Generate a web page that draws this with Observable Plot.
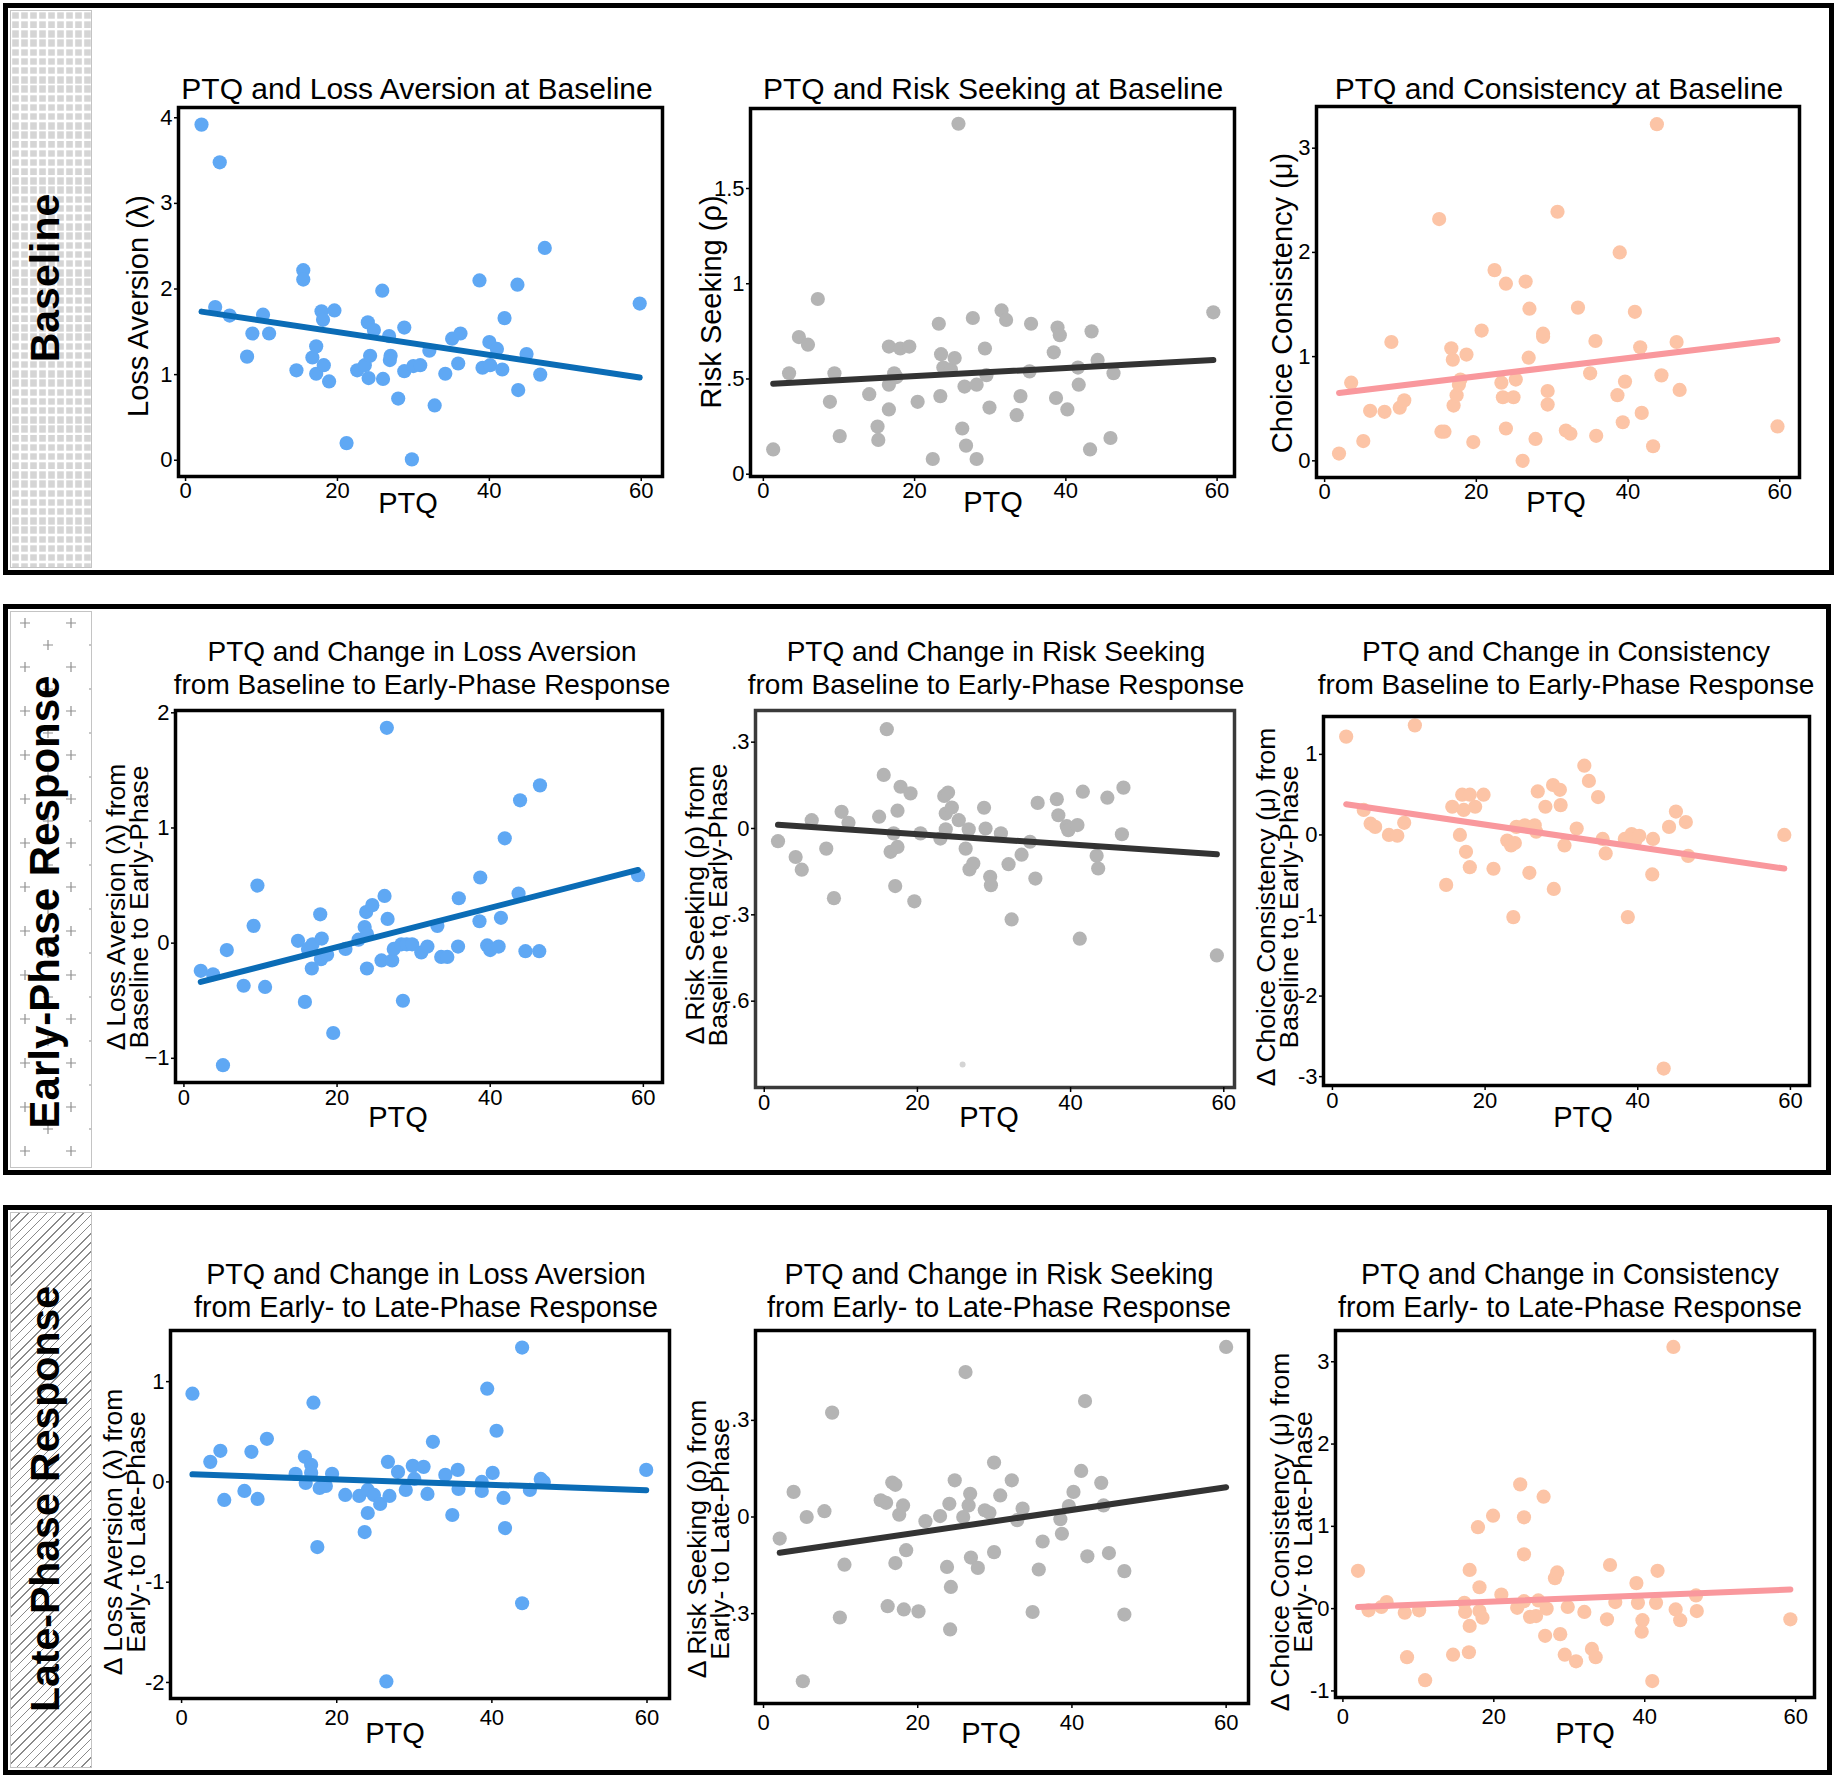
<!DOCTYPE html>
<html><head><meta charset="utf-8">
<script src="https://cdn.jsdelivr.net/npm/d3@7"></script>
<script src="https://cdn.jsdelivr.net/npm/@observablehq/plot@0.6"></script>
<style>
body{margin:0;background:#fff;font-family:"Liberation Sans",Arial,Helvetica,sans-serif;}
#root{position:relative;width:1836px;height:1779px;overflow:hidden;background:#fff;}
.box{position:absolute;border:5px solid #000;box-sizing:border-box;}
.strip{position:absolute;box-sizing:border-box;border:1px solid #c4c4c4;}
.side{position:absolute;font-weight:bold;color:#000;white-space:nowrap;transform:translate(-50%,-50%) rotate(-90deg);line-height:1;}
.title{position:absolute;white-space:pre;text-align:center;transform:translate(-50%,-50%);color:#000;}
.ylab{position:absolute;white-space:pre;text-align:center;transform:translate(-50%,-50%) rotate(-90deg);color:#000;}
.xlab{position:absolute;white-space:nowrap;transform:translate(-50%,-50%);color:#000;font-size:29px;line-height:1;}
</style>
</head><body><div id="root"></div>
<script>
// ---------------- DATA ----------------
const xTicks = [0, 20, 40, 60];

const rowLabels = ["Baseline", "Early-Phase Response", "Late-Phase Response"];

const titles = [
  "PTQ and Loss Aversion at Baseline",
  "PTQ and Risk Seeking at Baseline",
  "PTQ and Consistency at Baseline",
  "PTQ and Change in Loss Aversion\nfrom Baseline to Early-Phase Response",
  "PTQ and Change in Risk Seeking\nfrom Baseline to Early-Phase Response",
  "PTQ and Change in Consistency\nfrom Baseline to Early-Phase Response",
  "PTQ and Change in Loss Aversion\nfrom Early- to Late-Phase Response",
  "PTQ and Change in Risk Seeking\nfrom Early- to Late-Phase Response",
  "PTQ and Change in Consistency\nfrom Early- to Late-Phase Response"
];

const yLabels = [
  "Loss Aversion (λ)",
  "Risk Seeking (ρ)",
  "Choice Consistency (μ)",
  "Δ Loss Aversion (λ) from\nBaseline to Early-Phase",
  "Δ Risk Seeking (ρ) from\nBaseline to Early-Phase",
  "Δ Choice Consistency (μ) from\nBaseline to Early-Phase",
  "Δ Loss Aversion (λ) from\nEarly- to Late-Phase",
  "Δ Risk Seeking (ρ) from\nEarly- to Late-Phase",
  "Δ Choice Consistency (μ) from\nEarly- to Late-Phase"
];
const xLabel = "PTQ";

// Panel 1: PTQ vs loss aversion, baseline
const ptqLossBase = [2.1,4.5,3.9,5.8,8.1,8.8,10.2,11.0,14.6,15.5,15.5,16.7,17.2,17.2,17.9,18.1,18.2,18.9,19.6,21.2,22.6,23.6,24.0,24.1,24.3,24.8,25.9,26.0,26.8,27.0,26.9,28.0,28.8,28.8,29.8,30.0,30.9,32.1,32.8,34.2,35.1,35.9,36.2,38.7,39.1,40.0,40.1,41.0,41.7,42.0,43.7,43.8,44.9,46.7,47.3,59.8];
const lossBase = [3.92,3.48,1.79,1.69,1.21,1.48,1.70,1.48,1.05,2.22,2.11,1.20,1.33,1.01,1.74,1.64,1.11,0.92,1.75,0.20,1.05,1.11,1.61,0.96,1.22,1.52,1.98,0.95,1.45,1.22,1.17,0.72,1.55,1.04,0.01,1.10,1.11,1.28,0.64,1.01,1.42,1.13,1.48,2.10,1.08,1.38,1.11,1.30,1.06,1.66,2.05,0.82,1.24,1.00,2.48,1.83];
const yTicksLossBase = [0,1,2,3,4];
const yTickLabelsLossBase = ["0","1","2","3","4"];

// Panel 2: PTQ vs risk seeking, baseline
const ptqRiskBase = [1.3,3.4,4.7,5.9,7.2,8.8,9.4,10.1,14.0,15.1,15.2,16.6,16.6,16.6,17.3,17.6,18.1,19.3,20.4,22.4,23.2,23.5,23.4,23.8,24.8,25.3,25.8,26.3,26.6,26.8,27.7,28.2,28.2,29.3,29.5,29.9,31.5,32.1,33.5,34.0,35.2,35.4,38.4,38.7,38.9,39.2,40.2,41.6,41.7,43.2,43.4,44.2,45.9,46.3,59.5];
const riskBase = [0.13,0.53,0.72,0.68,0.92,0.38,0.53,0.20,0.42,0.25,0.18,0.67,0.47,0.34,0.53,0.51,0.66,0.67,0.38,0.08,0.79,0.63,0.41,0.56,0.55,0.61,1.84,0.24,0.46,0.15,0.82,0.47,0.08,0.66,0.52,0.35,0.86,0.81,0.31,0.41,0.54,0.79,0.64,0.40,0.77,0.73,0.34,0.56,0.47,0.13,0.75,0.60,0.19,0.53,0.85];
const yTicksRiskBase = [0,0.5,1,1.5];
const yTickLabelsRiskBase = ["0",".5","1","1.5"];

// Panel 3: PTQ vs choice consistency, baseline
const ptqConsBase = [1.9,3.5,5.1,6.0,7.9,8.8,9.9,10.5,15.1,15.4,15.8,16.7,16.9,17.0,17.4,17.7,17.9,18.7,19.6,20.7,22.4,23.3,23.5,23.9,23.9,24.9,25.2,26.1,26.5,26.9,27.0,27.8,28.8,28.8,29.4,29.4,30.7,31.8,32.4,33.4,35.0,35.7,35.8,38.6,38.9,39.3,39.6,40.9,41.6,41.8,43.3,43.8,44.4,46.4,46.8,59.7];
const consBase = [0.07,0.75,0.19,0.48,0.47,1.14,0.51,0.58,2.32,0.28,0.28,1.08,0.97,0.53,0.63,0.73,0.78,1.02,0.18,1.25,1.83,0.75,0.61,1.70,0.31,0.61,0.78,0.00,1.72,0.99,1.46,0.21,1.22,1.19,0.67,0.54,2.39,0.29,0.26,1.47,0.84,1.15,0.24,0.63,2.00,0.37,0.76,1.43,1.09,0.46,0.14,3.23,0.82,1.14,0.68,0.33];
const yTicksConsBase = [0,1,2,3];
const yTickLabelsConsBase = ["0","1","2","3"];

// Panel 4: change in loss aversion, baseline -> early
const ptqLossEarly = [2.2,3.8,5.1,5.6,7.8,9.1,9.6,10.6,14.9,15.8,16.2,16.8,16.7,17.8,18.0,17.9,18.7,19.5,21.1,22.8,23.6,23.8,23.9,24.6,23.9,25.8,26.2,26.5,26.6,27.2,27.4,28.4,28.6,29.1,29.8,31.0,31.8,33.1,33.6,34.4,35.8,35.9,38.6,38.7,39.6,40.0,41.1,41.4,41.9,43.7,43.9,44.6,46.4,46.5,59.3];
const lossEarly = [-0.24,-0.27,-1.06,-0.06,-0.37,0.15,0.50,-0.38,0.02,-0.51,-0.05,-0.01,-0.22,0.25,0.04,-0.14,-0.10,-0.78,-0.05,0.03,0.14,0.27,-0.22,0.33,0.08,-0.15,0.41,1.87,0.21,-0.15,-0.05,-0.01,-0.50,-0.01,-0.01,-0.08,-0.03,0.15,-0.12,-0.12,-0.03,0.39,0.19,0.57,-0.02,-0.06,-0.03,0.22,0.91,0.43,1.24,-0.07,-0.07,1.37,0.59];
const yTicksLossEarly = [-1,0,1,2];
const yTickLabelsLossEarly = ["−1","0","1","2"];

// Panel 5: change in risk seeking, baseline -> early
const ptqRiskEarly = [1.8,4.1,4.9,6.2,8.1,9.1,10.1,11.0,15.0,15.6,16.0,16.5,16.9,17.1,17.4,17.4,17.8,19.1,19.6,20.4,23.0,23.5,23.7,24.0,23.7,24.5,25.4,26.3,26.7,26.8,27.3,28.7,28.9,29.5,29.6,30.9,31.9,32.3,33.6,34.7,35.4,35.7,38.2,38.4,39.5,39.7,40.9,41.2,41.6,43.4,43.6,44.8,46.7,46.9,59.1];
const riskEarly = [-0.044,-0.099,-0.143,0.029,-0.070,-0.242,0.058,0.020,0.041,0.186,0.345,-0.081,-0.017,-0.200,0.062,-0.064,0.145,0.122,-0.253,-0.017,-0.035,0.113,0.052,0.125,-0.003,0.073,0.029,-0.070,-0.003,-0.142,-0.122,0.072,0.000,-0.168,-0.197,-0.017,-0.124,-0.316,-0.091,-0.046,-0.174,0.089,0.102,0.046,0.008,-0.006,0.012,-0.383,0.128,-0.095,-0.139,0.107,-0.020,0.142,-0.441];
const ptqRiskEarlyFaint = [25.9];
const riskEarlyFaint = [-0.82];
const yTicksRiskEarly = [-0.6,-0.3,0,0.3];
const yTickLabelsRiskEarly = ["-.6","-.3","0",".3"];

// Panel 6: change in consistency, baseline -> early
const ptqConsEarly = [1.8,4.1,5.0,5.6,7.4,8.5,9.4,10.8,14.9,15.7,16.7,17.0,17.2,17.5,18.0,18.0,18.7,19.8,21.1,22.9,23.4,23.7,23.9,24.1,25.2,25.8,26.5,26.7,26.9,27.9,28.9,29.0,29.8,29.9,30.4,32.0,33.0,33.6,34.8,35.4,35.8,38.3,38.7,39.2,39.7,40.2,42.0,41.9,43.4,44.1,45.0,46.3,46.6,59.2];
const consEarly = [1.22,0.31,0.14,0.10,0.00,-0.01,0.15,1.36,-0.62,0.35,0.00,0.50,0.31,-0.21,0.50,-0.40,0.35,0.50,-0.42,-0.07,-0.13,-1.02,-0.10,0.10,0.12,-0.47,0.12,0.04,0.54,0.35,0.62,-0.67,0.56,0.37,-0.13,0.08,0.86,0.67,0.47,-0.05,-0.23,-0.05,-1.02,0.01,-0.07,-0.01,-0.05,-0.49,-2.90,0.10,0.29,0.16,-0.26,0.00];
const yTicksConsEarly = [-3,-2,-1,0,1];
const yTickLabelsConsEarly = ["-3","-2","-1","0","1"];

// Panel 7: change in loss aversion, early -> late
const ptqLossLate = [1.4,3.7,5.0,5.5,8.1,9.0,9.8,11.0,14.7,15.9,16.0,16.7,16.7,17.0,17.5,17.8,18.6,19.4,21.1,22.9,23.6,24.0,24.0,24.8,25.6,26.4,26.6,26.8,27.9,28.9,29.8,30.0,31.2,31.7,32.4,34.0,34.9,35.6,35.7,38.7,38.7,39.4,40.1,40.6,41.5,41.7,43.9,43.9,44.9,46.3,46.7,59.9];
const lossLate = [0.88,0.20,0.31,-0.18,-0.09,0.30,-0.17,0.43,0.08,0.25,-0.01,0.17,0.09,0.79,-0.65,-0.06,-0.04,0.08,-0.13,-0.14,-0.50,-0.31,-0.08,-0.13,-0.22,-1.99,0.20,-0.14,0.10,-0.08,0.16,0.03,0.15,-0.12,0.40,0.07,-0.33,0.12,-0.07,0.00,-0.09,0.93,0.09,0.51,-0.16,-0.46,1.34,-1.21,-0.08,0.03,0.00,0.12];
const yTicksLossLate = [-2,-1,0,1];
const yTickLabelsLossLate = ["-2","-1","0","1"];

// Panel 8: change in risk seeking, early -> late
const ptqRiskLate = [2.1,3.9,5.1,5.6,7.9,8.9,9.9,10.5,15.2,15.9,16.1,16.7,17.1,17.1,17.6,18.1,18.2,18.5,20.1,21.0,22.9,23.8,24.1,24.3,24.2,24.8,25.9,26.2,26.6,26.8,26.9,27.8,28.7,29.3,29.9,29.9,30.7,32.2,32.9,33.6,34.9,35.7,36.2,38.5,38.7,39.6,40.2,41.2,41.7,42.0,43.8,44.1,44.8,46.8,46.8,60.0];
const riskLate = [-0.067,0.078,-0.51,0.0,0.018,0.324,-0.312,-0.148,0.052,0.044,-0.277,0.107,0.100,-0.143,0.007,0.036,-0.287,-0.103,-0.293,-0.013,0.003,-0.155,0.041,-0.217,-0.349,0.114,0.0,0.450,0.036,0.072,-0.126,-0.158,0.021,0.013,0.169,-0.109,0.067,0.114,-0.010,0.026,-0.295,-0.163,-0.076,-0.007,-0.052,0.034,0.078,0.143,0.360,-0.122,0.106,0.036,-0.112,-0.168,-0.303,0.528];
const yTicksRiskLate = [-0.3,0,0.3];
const yTickLabelsRiskLate = ["-.3","0",".3"];

// Panel 9: change in consistency, early -> late
const ptqConsLate = [2.0,3.4,5.1,5.8,8.2,8.5,10.1,10.9,14.6,16.1,16.2,16.7,16.8,16.8,17.9,18.1,18.1,18.5,19.9,21.0,23.1,23.5,24.0,24.0,24.0,24.8,25.6,25.9,26.6,26.8,27.0,28.1,28.4,28.8,29.4,29.8,30.9,32.0,33.0,33.5,35.0,35.4,36.1,38.9,39.1,39.7,39.6,41.0,41.5,41.7,43.8,44.1,44.7,46.8,46.9,59.3];
const consLate = [0.46,-0.02,0.02,0.08,-0.05,-0.59,-0.02,-0.87,-0.56,0.07,-0.04,-0.53,-0.21,0.47,0.99,-0.03,0.26,-0.11,1.13,0.17,0.01,1.51,0.09,1.11,0.66,-0.10,-0.09,0.10,1.36,-0.33,0.00,0.37,0.44,-0.31,-0.56,0.02,-0.64,-0.04,-0.49,-0.59,-0.13,0.53,0.08,0.31,0.07,-0.14,-0.28,-0.88,0.07,0.46,3.18,-0.01,-0.14,0.16,-0.03,-0.13];
const yTicksConsLate = [-1,0,1,2,3];
const yTickLabelsConsLate = ["-1","0","1","2","3"];

// ---------------- STYLE / LAYOUT ----------------
const FONT = '"Liberation Sans", Arial, Helvetica, sans-serif';
const blue = {dot: "#5fa8f4", line: "#0b6cb6"};
const gray = {dot: "#b4b4b4", line: "#333333"};
const peach = {dot: "#fcc4a6", line: "#f9989d"};

const panels = [
  {x: ptqLossBase, y: lossBase, c: blue, frame: [178,662,107,476], xd: [-0.93,62.8], yd: [-0.19,4.12], yt: yTicksLossBase, yl: yTickLabelsLossBase, tXY: [417,88], tSize: 30, lXY: [138,306], lSize: 29, pXY: [408,503], xpad: 1},
  {x: ptqRiskBase, y: riskBase, c: gray, frame: [750,1234,108,476], xd: [-1.7,62.3], yd: [-0.012,1.92], yt: yTicksRiskBase, yl: yTickLabelsRiskBase, tXY: [993,88], tSize: 30, lXY: [711,302], lSize: 29, pXY: [993,502], xpad: 1},
  {x: ptqConsBase, y: consBase, c: peach, frame: [1316,1799,106,477], xd: [-1.07,62.6], yd: [-0.16,3.40], yt: yTicksConsBase, yl: yTickLabelsConsBase, tXY: [1559,88], tSize: 30, lXY: [1282,303], lSize: 29, pXY: [1556,502], xpad: 1},
  {x: ptqLossEarly, y: lossEarly, c: blue, frame: [175,662,710,1082], xd: [-1.1,62.5], yd: [-1.21,2.02], yt: yTicksLossEarly, yl: yTickLabelsLossEarly, tXY: [422,668], tSize: 28, lXY: [127,907], lSize: 26.5, pXY: [398,1117], xpad: 2},
  {x: ptqRiskEarly, y: riskEarly, c: gray, frame: [755,1234,710,1087], xd: [-1.14,61.4], yd: [-0.90,0.41], yt: yTicksRiskEarly, yl: yTickLabelsRiskEarly, tXY: [996,668], tSize: 28, lXY: [706,905], lSize: 26.5, pXY: [989,1117], xpad: 2, frameColor: "#3a3a3a", faint: {x: ptqRiskEarlyFaint, y: riskEarlyFaint}},
  {x: ptqConsEarly, y: consEarly, c: peach, frame: [1323,1809,716,1085], xd: [-1.17,62.5], yd: [-3.11,1.47], yt: yTicksConsEarly, yl: yTickLabelsConsEarly, tXY: [1566,668], tSize: 28, lXY: [1277,907], lSize: 26.5, pXY: [1583,1117], xpad: 2},
  {x: ptqLossLate, y: lossLate, c: blue, frame: [170,669,1330,1698], xd: [-1.43,62.9], yd: [-2.16,1.51], yt: yTicksLossLate, yl: yTickLabelsLossLate, tXY: [426,1291], tSize: 28.7, lXY: [124,1532], lSize: 26.5, pXY: [395,1733], xpad: 6},
  {x: ptqRiskLate, y: riskLate, c: gray, frame: [755,1248,1330,1703], xd: [-1.04,62.9], yd: [-0.579,0.579], yt: yTicksRiskLate, yl: yTickLabelsRiskLate, tXY: [999,1291], tSize: 28.7, lXY: [708,1539], lSize: 26.5, pXY: [991,1733], xpad: 6},
  {x: ptqConsLate, y: consLate, c: peach, frame: [1335,1814,1330,1697], xd: [-0.98,62.5], yd: [-1.08,3.38], yt: yTicksConsLate, yl: yTickLabelsConsLate, tXY: [1570,1291], tSize: 28.7, lXY: [1291,1532], lSize: 26.5, pXY: [1585,1733], xpad: 6}
];

const root = document.getElementById("root");

// Row boxes with patterned side strips
const boxes = [
  {l: 3, t: 3, w: 1831, h: 572, lc: [45,278], fs: 41, bg: "squares"},
  {l: 3, t: 604, w: 1828, h: 571, lc: [45,902], fs: 42, bg: "plus"},
  {l: 3, t: 1205, w: 1829, h: 570, lc: [45,1499], fs: 41, bg: "hatch"}
];
const bgs = {
  squares: "url(\"data:image/svg+xml,%3Csvg xmlns='http://www.w3.org/2000/svg' width='9' height='9.2'%3E%3Crect x='1.2' y='1.2' width='6.6' height='6.8' fill='%23d5d5d5'/%3E%3C/svg%3E\")",
  plus: "url(\"data:image/svg+xml,%3Csvg xmlns='http://www.w3.org/2000/svg' width='46' height='44'%3E%3Cpath d='M14 6v10M9 11h10M37 28v10M32 33h10' stroke='%23909090' stroke-width='1.2' fill='none'/%3E%3C/svg%3E\")",
  hatch: "repeating-linear-gradient(135deg, #ffffff 0px, #ffffff 5.4px, #8a8a8a 5.4px, #8a8a8a 6.5px)"
};
boxes.forEach((b, i) => {
  const d = document.createElement("div");
  d.className = "box";
  Object.assign(d.style, {left: b.l + "px", top: b.t + "px", width: b.w + "px", height: b.h + "px"});
  root.appendChild(d);
  const s = document.createElement("div");
  s.className = "strip";
  Object.assign(s.style, {left: "10px", top: (b.t + 7) + "px", width: "82px", height: (b.h - 14) + "px", backgroundImage: bgs[b.bg], backgroundColor: "#fff"});
  root.appendChild(s);
  const t = document.createElement("div");
  t.className = "side";
  t.textContent = rowLabels[i];
  Object.assign(t.style, {left: b.lc[0] + "px", top: b.lc[1] + "px", fontSize: b.fs + "px"});
  root.appendChild(t);
});

function addText(cls, text, xy, size, lh) {
  const d = document.createElement("div");
  d.className = cls;
  d.textContent = text;
  Object.assign(d.style, {left: xy[0] + "px", top: xy[1] + "px", fontSize: size + "px", lineHeight: lh + "px"});
  root.appendChild(d);
}

panels.forEach((p, i) => {
  const [L, R, T, B] = p.frame;
  const mL = 60, mR = 20, mT = 12, mB = 45;
  const data = p.x.map((x, j) => ({ptq: x, v: p.y[j]}));
  const marks = [
    Plot.dot(data, {x: "ptq", y: "v", r: 7.1, fill: p.c.dot})
  ];
  if (p.faint) {
    const fd = p.faint.x.map((x, j) => ({ptq: x, v: p.faint.y[j]}));
    marks.push(Plot.dot(fd, {x: "ptq", y: "v", r: 3, fill: "#d4d4d4"}));
  }
  marks.push(
    Plot.linearRegressionY(data, {x: "ptq", y: "v", stroke: p.c.line, strokeWidth: 6, ci: 0}),
    Plot.frame({stroke: p.frameColor || "#000", strokeWidth: 3.5}),
    Plot.axisX({ticks: xTicks, tickSize: 5, tickPadding: p.xpad, tickFormat: d => String(d), strokeWidth: 1.5, label: null}),
    Plot.axisY({ticks: p.yt, tickSize: 4, tickPadding: 2, tickFormat: d => p.yl[p.yt.indexOf(d)], strokeWidth: 1.5, label: null})
  );
  const svg = Plot.plot({
    width: R - L + mL + mR,
    height: B - T + mT + mB,
    marginLeft: mL, marginRight: mR, marginTop: mT, marginBottom: mB,
    x: {domain: p.xd, label: null},
    y: {domain: p.yd, label: null},
    style: {fontSize: "22px", fontFamily: FONT, background: "transparent", overflow: "visible", color: "#000"},
    marks
  });
  Object.assign(svg.style, {position: "absolute", left: (L - mL) + "px", top: (T - mT) + "px"});
  root.appendChild(svg);

  addText("title", titles[i], p.tXY, p.tSize, 33);
  addText("ylab", yLabels[i], p.lXY, p.lSize, 22.5);
  addText("xlab", xLabel, p.pXY, 29, 29);
});
</script>
</body></html>
